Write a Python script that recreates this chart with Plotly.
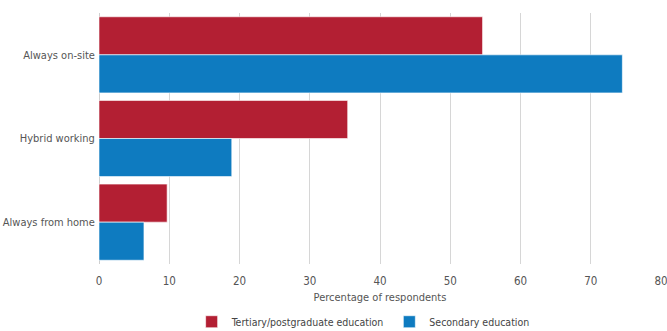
import plotly.graph_objects as go

categories = ["Always on-site", "Hybrid working", "Always from home"]
tertiary = [54.6, 35.4, 9.7]
secondary = [74.5, 18.9, 6.4]
series_names = ["Tertiary/postgraduate education", "Secondary education"]
x_ticks = [0, 10, 20, 30, 40, 50, 60, 70, 80]

FONT = "DejaVu Sans Condensed, Liberation Sans Narrow, sans-serif"

fig = go.Figure()
fig.add_trace(go.Bar(y=categories, x=tertiary, name=series_names[0], orientation="h",
                     marker=dict(color="#B31F33", line=dict(color="white", width=0.6))))
fig.add_trace(go.Bar(y=categories, x=secondary, name=series_names[1], orientation="h",
                     marker=dict(color="#0E7BC0", line=dict(color="white", width=0.6))))

fig.update_layout(
    width=667, height=331,
    margin=dict(l=99, r=6, t=13, b=67, autoexpand=False),
    paper_bgcolor="white", plot_bgcolor="white",
    barmode="group", bargap=0.09, bargroupgap=0,
    font=dict(family=FONT, size=11, color="#555555"),
    showlegend=True,
    legend=dict(orientation="h", x=0.47, xanchor="center", yref="container", y=0.028, yanchor="middle",
                font=dict(size=10.5, color="#444444"), itemwidth=30, traceorder="normal"),
    xaxis=dict(range=[0, 80], tickvals=x_ticks, showgrid=True, gridcolor="#d6d6d6", gridwidth=1,
               automargin=False, ticklabeloverflow="allow",
               zeroline=True, zerolinecolor="#cfcfcf", zerolinewidth=1,
               ticks="outside", ticklen=6, tickcolor="rgba(0,0,0,0)",
               tickfont=dict(size=11.5, color="#555555"),
               title=dict(text="Percentage of respondents", font=dict(size=11, color="#555555"), standoff=6)),
    yaxis=dict(autorange="reversed", showgrid=False, ticks="", ticksuffix=" ", automargin=False,
               tickfont=dict(size=11, color="#555555")),
)

fig.write_html("out.html")
